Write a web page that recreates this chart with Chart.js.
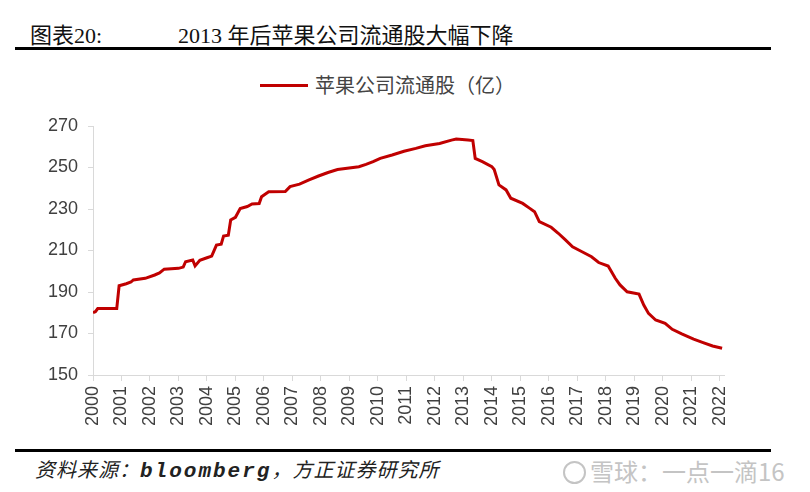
<!DOCTYPE html>
<html>
<head>
<meta charset="utf-8">
<script src="https://cdn.jsdelivr.net/npm/chart.js@4.4.1/dist/chart.umd.min.js"></script>
<style>
    html, body { margin: 0; padding: 0; background: #fff; }
    #page { position: relative; width: 810px; height: 492px; overflow: hidden; background: #fff; }
    .title { position: absolute; top: 17px; font-family: 'Liberation Serif', 'Noto Sans CJK SC', serif; font-size: 22px; color: #111; white-space: nowrap; }
    .rule { position: absolute; left: 15px; width: 756px; height: 3px; background: #000; }
    #legend { position: absolute; left: 260px; top: 70px; font-family: 'Noto Sans CJK SC', sans-serif; font-size: 20px; color: #444; white-space: nowrap; }
    #legend .swatch { display: inline-block; width: 48px; height: 3px; background: #c00000; vertical-align: middle; margin-right: 7px; position: relative; top: -2px; }
    #chartBox { position: absolute; left: 0; top: 100px; width: 810px; height: 345px; }
    #source { position: absolute; left: 35px; top: 454px; font-family: 'Noto Sans CJK SC', sans-serif; font-style: italic; font-size: 20px; color: #222; white-space: nowrap; letter-spacing: 1px; }
    #source .en { font-family: 'Liberation Mono', monospace; font-weight: bold; font-size: 21px; letter-spacing: 2px; }
    #mark { position: absolute; left: 563px; top: 453px; font-family: 'Noto Sans CJK SC', sans-serif; font-size: 24px; color: #c4c4c4; white-space: nowrap; }
    #mark .logo { display: inline-block; width: 19px; height: 19px; border: 2px solid #c4c4c4; border-radius: 50%; vertical-align: middle; margin-right: 4px; position: relative; top: -2px; }
</style>
</head>
<body>
<div id="page">
    <div class="title" style="left: 30px;">图表20:</div>
    <div class="title" style="left: 178px;">2013 年后苹果公司流通股大幅下降</div>
    <div class="rule" style="top: 47px;"></div>

    <div id="legend"><span class="swatch"></span>苹果公司流通股（亿）</div>

    <div id="chartBox"><canvas id="sharesChart"></canvas></div>

    <div class="rule" style="top: 449px;"></div>
    <div id="source">资料来源：<span class="en">bloomberg</span>，方正证券研究所</div>
    <div id="mark"><span class="logo"></span>雪球：一点一滴16</div>
</div>

<script>
// Apple shares outstanding (100 million shares)
const dates = [
    '2000-01', '2000-02', '2000-03', '2000-11', '2000-12', '2001-03', '2001-05', '2001-06', '2001-11',
    '2002-03', '2002-05', '2002-07', '2003-01', '2003-03', '2003-04', '2003-07', '2003-08', '2003-10',
    '2004-01', '2004-03', '2004-05', '2004-07', '2004-08', '2004-10', '2004-11', '2005-01', '2005-03',
    '2005-06', '2005-08', '2005-11', '2005-12', '2006-03', '2006-10', '2006-12', '2007-04', '2007-08',
    '2007-12', '2008-04', '2008-08', '2009-05', '2009-08', '2009-11', '2010-02', '2010-07', '2010-12',
    '2011-05', '2011-09', '2012-03', '2012-08', '2012-10', '2013-03', '2013-05', '2013-06', '2013-09',
    '2014-01', '2014-02', '2014-04', '2014-07', '2014-09', '2015-02', '2015-05', '2015-07', '2015-09',
    '2016-02', '2016-05', '2016-08', '2016-11', '2017-03', '2017-07', '2017-10', '2018-02', '2018-05',
    '2018-07', '2018-10', '2019-03', '2019-05', '2019-07', '2019-10', '2020-02', '2020-05', '2020-09',
    '2021-02', '2021-06', '2021-10', '2022-02'
];
const shares = [
    180, 180.5, 182, 182, 193, 194, 194.8, 195.8, 196.6,
    198.2, 199.2, 201, 201.4, 202, 204.6, 205.4, 202.6, 205.3,
    206.5, 207.3, 212.6, 213, 217, 217.4, 224.7, 226, 230.2,
    231.2, 232.4, 232.6, 235.9, 238.3, 238.4, 240.8, 242, 244,
    245.9, 247.6, 249, 250.4, 251.5, 252.8, 254.4, 256, 257.8,
    259.2, 260.5, 261.6, 263.2, 263.7, 263.2, 263, 254.4, 252.8,
    250.4, 249, 241.6, 239.2, 235.2, 232.7, 230.3, 228.7, 223.9,
    221.2, 218.3, 215.1, 211.8, 209.4, 207, 204.2, 202.5, 196.6,
    193.4, 190.1, 189, 183.7, 179.7, 176.5, 174.9, 172, 169.8,
    167.3, 165.6, 164, 162.9
];
const yTicks = [150, 170, 190, 210, 230, 250, 270];
const yearLabels = ['2000', '2001', '2002', '2003', '2004', '2005', '2006', '2007', '2008', '2009', '2010',
    '2011', '2012', '2013', '2014', '2015', '2016', '2017', '2018', '2019', '2020', '2021', '2022'];

function toYear(d) {
    const [y, m] = d.split('-').map(Number);
    return y + (m - 1) / 12;
}

const axisGrey = '#d9d9d9';
const tickFont = { family: "'Liberation Sans', Arial, sans-serif", size: 18 };

new Chart(document.getElementById('sharesChart').getContext('2d'), {
    type: 'line',
    data: {
        datasets: [{
            label: '苹果公司流通股（亿）',
            data: dates.map((d, i) => ({ x: toYear(d), y: shares[i] })),
            borderColor: '#c00000',
            borderWidth: 3,
            pointRadius: 0,
            tension: 0,
            fill: false
        }]
    },
    options: {
        responsive: true,
        maintainAspectRatio: false,
        animation: false,
        layout: { padding: { left: 0, right: 86, top: 26, bottom: 0 } },
        plugins: {
            legend: { display: false },
            tooltip: { enabled: false }
        },
        scales: {
            x: {
                type: 'linear',
                min: +yearLabels[0],
                max: +yearLabels[yearLabels.length - 1] + 0.15,
                afterBuildTicks: (scale) => {
                    scale.ticks = yearLabels.map(v => ({ value: +v }));
                },
                afterFit: (scale) => { scale.height = 70; },
                grid: { drawOnChartArea: false, drawTicks: true, tickLength: 6, color: axisGrey },
                border: { color: axisGrey },
                ticks: {
                    autoSkip: false,
                    minRotation: 90,
                    maxRotation: 90,
                    padding: 5,
                    color: '#404040',
                    font: tickFont,
                    callback: (value) => String(value)
                }
            },
            y: {
                min: yTicks[0],
                max: yTicks[yTicks.length - 1],
                afterBuildTicks: (scale) => {
                    scale.ticks = yTicks.map(v => ({ value: v }));
                },
                afterFit: (scale) => { scale.width = 93; },
                grid: { drawOnChartArea: false, drawTicks: true, tickLength: 5, color: axisGrey },
                border: { color: axisGrey },
                ticks: {
                    padding: 10,
                    color: '#404040',
                    font: tickFont
                }
            }
        }
    }
});
</script>
</body>
</html>
